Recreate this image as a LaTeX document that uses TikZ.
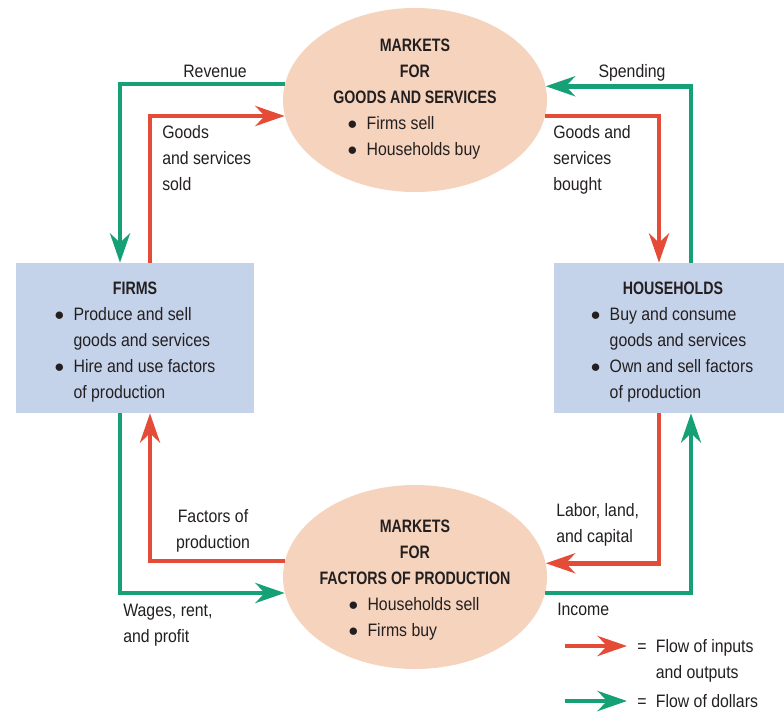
\documentclass[tikz,border=0pt]{standalone}
\usepackage{fontspec}
\setmainfont{Liberation Sans}[FakeStretch=0.88]
\newfontfamily\headfont{Liberation Sans}[FakeStretch=0.79]
\usetikzlibrary{arrows.meta,shapes.geometric}
\definecolor{flowred}{RGB}{228,76,56}
\definecolor{flowgreen}{RGB}{22,160,117}
\definecolor{marketfill}{RGB}{245,211,189}
\definecolor{sectorfill}{RGB}{197,211,234}
\definecolor{inktext}{RGB}{35,31,32}
\newcommand{\textlines}[2]{\begin{tabular}[t]{@{}#1@{}}#2\end{tabular}}
\newcommand{\bulletlist}[1]{\begin{tabular}[t]{@{}c@{\hspace{7pt}}l@{}}#1\end{tabular}}
\begin{document}
\begin{tikzpicture}[x=0.75pt, y=-0.75pt,
    every node/.style={inner sep=0pt, text=inktext, font=\fontsize{13.5}{19.5}\selectfont},
    head/.style={font=\fontsize{13.5}{19.5}\selectfont\headfont\bfseries},
    market/.style={ellipse, fill=marketfill, minimum width=198pt, minimum height=138pt},
    sector/.style={rectangle, fill=sectorfill, minimum width=178.5pt, minimum height=112.5pt},
    flow/.style={line width=3.5pt, -{Stealth[length=22pt, width=15pt, inset=7pt]}},
    goods/.style={flow, draw=flowred},
    dollars/.style={flow, draw=flowgreen}]
    \useasboundingbox (0,0) rectangle (784,711);

    \node[market] (gs) at (415,100) {}; % goods and services
    \node[market] (fs) at (415,577) {}; % factors of production
    \node[sector] (firms) at (135,338) {};
    \node[sector] (hh) at (673,338) {};

    \node[head, anchor=base] (gstitle) at (415,51) {\textlines{c}{MARKETS\\FOR\\GOODS AND SERVICES}};
    \node[anchor=base] (gslist) at (414,129) {\bulletlist{$\bullet$ & Firms sell\\ $\bullet$ & Households buy}};
    \node[head, anchor=base] (fstitle) at (415,532) {\textlines{c}{MARKETS\\FOR\\FACTORS OF PRODUCTION}};
    \node[anchor=base] (fslist) at (414,610) {\bulletlist{$\bullet$ & Households sell\\ $\bullet$ & Firms buy}};
    \node[head, anchor=base] (firmstitle) at (135,294) {FIRMS};
    \node[anchor=base] (firmslist) at (135,320) {\bulletlist{$\bullet$ & Produce and sell\\ & goods and services\\ $\bullet$ & Hire and use factors\\ & of production}};
    \node[head, anchor=base] (hhtitle) at (673,294) {HOUSEHOLDS};
    \node[anchor=base] (hhlist) at (672,320) {\bulletlist{$\bullet$ & Buy and consume\\ & goods and services\\ $\bullet$ & Own and sell factors\\ & of production}};

    \node[anchor=base] (revenue) at (215,77) {Revenue};
    \node[anchor=base] (spending) at (632,77) {Spending};
    \node[anchor=base west] (soldlbl) at (162,138) {\textlines{l}{Goods\\and services\\sold}};
    \node[anchor=base west] (boughtlbl) at (553,138) {\textlines{l}{Goods and\\services\\bought}};
    \node[anchor=base] (factorslbl) at (213,522) {\textlines{c}{Factors of\\production}};
    \node[anchor=base west] (laborlbl) at (556,516) {\textlines{l}{Labor, land,\\and capital}};
    \node[anchor=base west] (wageslbl) at (123,616) {\textlines{l}{Wages, rent,\\and profit}};
    \node[anchor=base west] (incomelbl) at (557,615) {Income};

    % upper loop
    \draw[dollars] (gs.173.4) -| (firms.north -| 120,0);
    \draw[goods] (firms.north -| 150,0) |- (gs.187);
    \draw[goods] (gs.353) -| (hh.north -| 659,0);
    \draw[dollars] (hh.north -| 691,0) |- (gs.6.6);
    % lower loop
    \draw[goods] (fs.173.9) -| (firms.south -| 150,0);
    \draw[dollars] (firms.south -| 120,0) |- (fs.187);
    \draw[goods] (hh.south -| 659,0) |- (fs.6.1);
    \draw[dollars] (fs.353) -| (hh.south -| 691,0);

    % key
    \coordinate (inkeyA) at (565,646);
    \coordinate (inkeyB) at (627,646);
    \coordinate (dlkeyA) at (565,701);
    \coordinate (dlkeyB) at (627,701);
    \draw[goods] (inkeyA) -- (inkeyB);
    \draw[dollars] (dlkeyA) -- (dlkeyB);
    \node[anchor=base west] (inkey) at (637,652) {\begin{tabular}[t]{@{}l@{\hspace{7pt}}l@{}}= & Flow of inputs\\ & and outputs\end{tabular}};
    \node[anchor=base west] (dlkey) at (637,707) {=\hspace{7pt}Flow of dollars};
\end{tikzpicture}
\end{document}
